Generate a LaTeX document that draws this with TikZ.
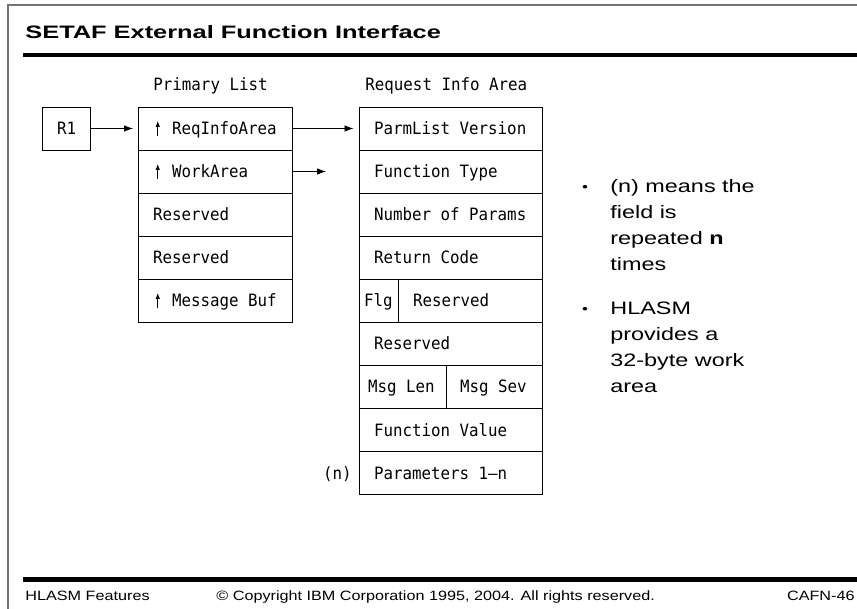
\documentclass[tikz,border=0pt]{standalone}
\usepackage{fontspec}
\usetikzlibrary{arrows.meta,positioning}
\newfontfamily\slidefont[FakeStretch=1.3]{Liberation Sans}
\newfontfamily\titlefont[FakeStretch=1.41]{Liberation Sans}
\newfontfamily\footfont[FakeStretch=1.2]{Liberation Sans}
\newfontfamily\boxfont[FakeStretch=0.93,WordSpace={1,0,0}]{DejaVu Sans Mono}
\newcommand{\boxtext}{\boxfont\fontsize{17}{20}\selectfont}
\newcommand{\ptr}{\makebox[9.5pt]{\tikz[x=1pt,y=1pt,baseline=0pt]\draw[line width=0.8pt,-{Latex[length=6pt,width=4.5pt]}] (0,-1) -- (0,14);}}

\begin{document}
\begin{tikzpicture}[x=1pt,y=-1pt,>={Latex[length=9pt,width=6.5pt]},line width=0.8pt,
  field/.style={draw,anchor=north west,outer sep=0pt,inner ysep=0pt,inner xsep=15pt,
    minimum height=43pt,text height=13pt,text depth=0pt,align=left,text width=#1,font=\boxtext,
    execute at begin node={\spaceskip=0pt\xspaceskip=0pt}},
  head/.style={anchor=base west,inner sep=0pt,font=\boxtext},
  note/.style={anchor=base west,inner sep=0pt,align=left,font=\slidefont\fontsize{18}{26}\selectfont},
  dot/.style={anchor=base,inner sep=0pt,font=\slidefont\fontsize{13}{16}\selectfont},
  foot/.style={inner sep=0pt,font=\footfont\fontsize{13.5}{16}\selectfont}]
  \useasboundingbox (0,0) rectangle (857,609);

  % frame, title and rules
  \draw[black!55,line width=1.6pt] (8,609) -- (8,5) -- (857,5);
  \node[anchor=base west,inner sep=0pt,font=\titlefont\bfseries\fontsize{18}{20}\selectfont] (title) at (25,39) {SETAF External Function Interface};
  \draw[line width=4.5pt] (23,55) -- (857,55);
  \draw[line width=4.5pt] (23,579.5) -- (857,579.5);

  % register
  \node[draw,outer sep=0pt,minimum width=48pt,minimum height=43pt,inner sep=0pt,font=\boxtext] (r1) at (66.7,128.5) {R1};

  % primary list
  \node[head] (phead) at (153,91) {Primary List};
  \node[field=124pt] (p1) at (138,107) {\ptr\ ReqInfoArea};
  \node[field=124pt] (p2) at (p1.south west) {\ptr\ WorkArea};
  \node[field=124pt] (p3) at (p2.south west) {Reserved};
  \node[field=124pt] (p4) at (p3.south west) {Reserved};
  \node[field=124pt] (p5) at (p4.south west) {\ptr\ Message Buf};

  % request info area
  \node[head] (qhead) at (365,91) {Request Info Area};
  \node[field=153pt] (q1) at (359,107) {ParmList Version};
  \node[field=153pt] (q2) at (q1.south west) {Function Type};
  \node[field=153pt] (q3) at (q2.south west) {Number of Params};
  \node[field=153pt] (q4) at (q3.south west) {Return Code};
  \node[field=29pt,inner xsep=5pt] (q5a) at (q4.south west) {Flg};
  \node[field=114pt] (q5b) at (q5a.north east) {Reserved};
  \node[field=153pt] (q6) at (q5a.south west) {Reserved};
  \node[field=69pt,inner xsep=9pt] (q7a) at (q6.south west) {Msg Len};
  \node[field=68pt,inner xsep=14pt] (q7b) at (q7a.north east) {Msg Sev};
  \node[field=153pt] (q8) at (q7a.south west) {Function Value};
  \node[field=153pt] (q9) at (q8.south west) {Parameters 1—n};
  \node[head,anchor=base east] (rep) at (352,479.5) {(n)};

  % pointers
  \coordinate (wa) at (326,171.5);
  \draw[->,shorten >=5pt] (r1) -- (p1);
  \draw[->,shorten >=5.5pt] (p1) -- (q1);
  \draw[->] (p2.east) -- (wa);

  % notes
  \node[dot] (dot1) at (585,192) {•};
  \node[note] (n1) at (610,271) {(n) means the\\field is\\repeated \textbf{n}\\times};
  \node[dot] (dot2) at (585,314) {•};
  \node[note] (n2) at (610,393) {HLASM\\provides a\\32-byte work\\area};

  % footer
  \node[foot,anchor=base west] (f1) at (25,600) {HLASM Features};
  \node[foot,anchor=base west] (f2) at (216,600) {© Copyright IBM Corporation 1995, 2004. All rights reserved.};
  \node[foot,anchor=base east] (f3) at (855,600) {CAFN-46};
\end{tikzpicture}
\end{document}
